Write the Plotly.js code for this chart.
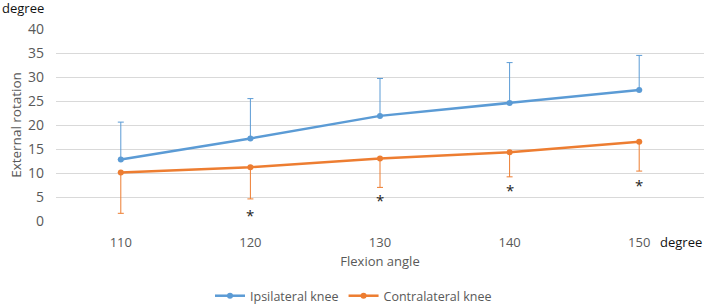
<!DOCTYPE html>
<html>
<head>
<meta charset="utf-8">
<script src="https://cdn.plot.ly/plotly-3.0.1.min.js"></script>
<style>html,body{margin:0;padding:0;background:#fff;}#chart{width:707px;height:304px;}</style>
</head>
<body>
<div id="chart"></div>
<script>
const categories = ["110", "120", "130", "140", "150"];
const ipsilateral = [12.8, 17.2, 21.9, 24.6, 27.3];
const ipsilateralErrUp = [7.8, 8.3, 7.8, 8.4, 7.2];
const contralateral = [10.1, 11.2, 13.0, 14.3, 16.5];
const contralateralErrDown = [8.5, 6.6, 6.0, 5.1, 6.1];
const starCategories = ["120", "130", "140", "150"];
const starValues = [1.9, 4.9, 7.0, 8.1];
const yTicks = [0, 5, 10, 15, 20, 25, 30, 35, 40];

const blue = "#5b9bd5";
const orange = "#ed7d31";
const font = "Open Sans, Liberation Sans, sans-serif";

const traces = [
  {
    x: categories, y: ipsilateral, type: "scatter", mode: "lines+markers",
    name: "Ipsilateral knee",
    line: {color: blue, width: 2.5}, marker: {color: blue, size: 6},
    error_y: {type: "data", symmetric: false, array: ipsilateralErrUp,
      arrayminus: ipsilateral.map(() => 0), color: blue, thickness: 1, width: 3}
  },
  {
    x: categories, y: contralateral, type: "scatter", mode: "lines+markers",
    name: "Contralateral knee",
    line: {color: orange, width: 2.5}, marker: {color: orange, size: 6},
    error_y: {type: "data", symmetric: false, array: contralateral.map(() => 0),
      arrayminus: contralateralErrDown, color: orange, thickness: 1, width: 3}
  }
];

const annotations = starCategories.map((c, i) => ({
  x: categories.indexOf(c), y: starValues[i], xref: "x", yref: "y", text: "*", showarrow: false,
  font: {family: font, size: 15, color: "#222"}, yanchor: "middle", yshift: -3
}));
annotations.push({
  xref: "paper", yref: "paper", x: -56/648, y: 1, xanchor: "left", yanchor: "middle", yshift: 21,
  text: "degree", showarrow: false, font: {family: font, size: 13, color: "#111"}
});
annotations.push({
  xref: "paper", yref: "paper", x: 1, y: 0, xanchor: "right", yanchor: "middle", yshift: -21,
  text: "degree", showarrow: false, font: {family: font, size: 13, color: "#111"}
});

const layout = {
  width: 707, height: 304,
  margin: {l: 56, r: 3, t: 29, b: 83},
  paper_bgcolor: "#fff", plot_bgcolor: "#fff",
  font: {family: font, size: 13, color: "#595959"},
  showlegend: true,
  legend: {orientation: "h", xref: "container", yref: "container", x: 0.5, xanchor: "center",
    y: 0.026, yanchor: "middle", font: {family: font, size: 12.5, color: "#595959"},
    itemwidth: 30, tracegroupgap: 0},
  xaxis: {
    type: "category", range: [-0.5, 4.5], showgrid: false, zeroline: false, showline: false,
    ticks: "", ticklabelstandoff: 12, tickfont: {family: font, size: 13, color: "#595959"},
    title: {text: "Flexion angle", font: {family: font, size: 13, color: "#595959"}, standoff: 6}
  },
  yaxis: {
    range: [0, 40], tickvals: yTicks, showgrid: true, gridcolor: "#d9d9d9", gridwidth: 1,
    zeroline: false, showline: false, ticks: "", ticklabelstandoff: 11,
    tickfont: {family: font, size: 14, color: "#595959"},
    title: {text: "External rotation", font: {family: font, size: 13.5, color: "#595959"}, standoff: 3}
  },
  annotations: annotations
};

Plotly.newPlot("chart", traces, layout, {displayModeBar: false, staticPlot: true});
</script>
</body>
</html>
